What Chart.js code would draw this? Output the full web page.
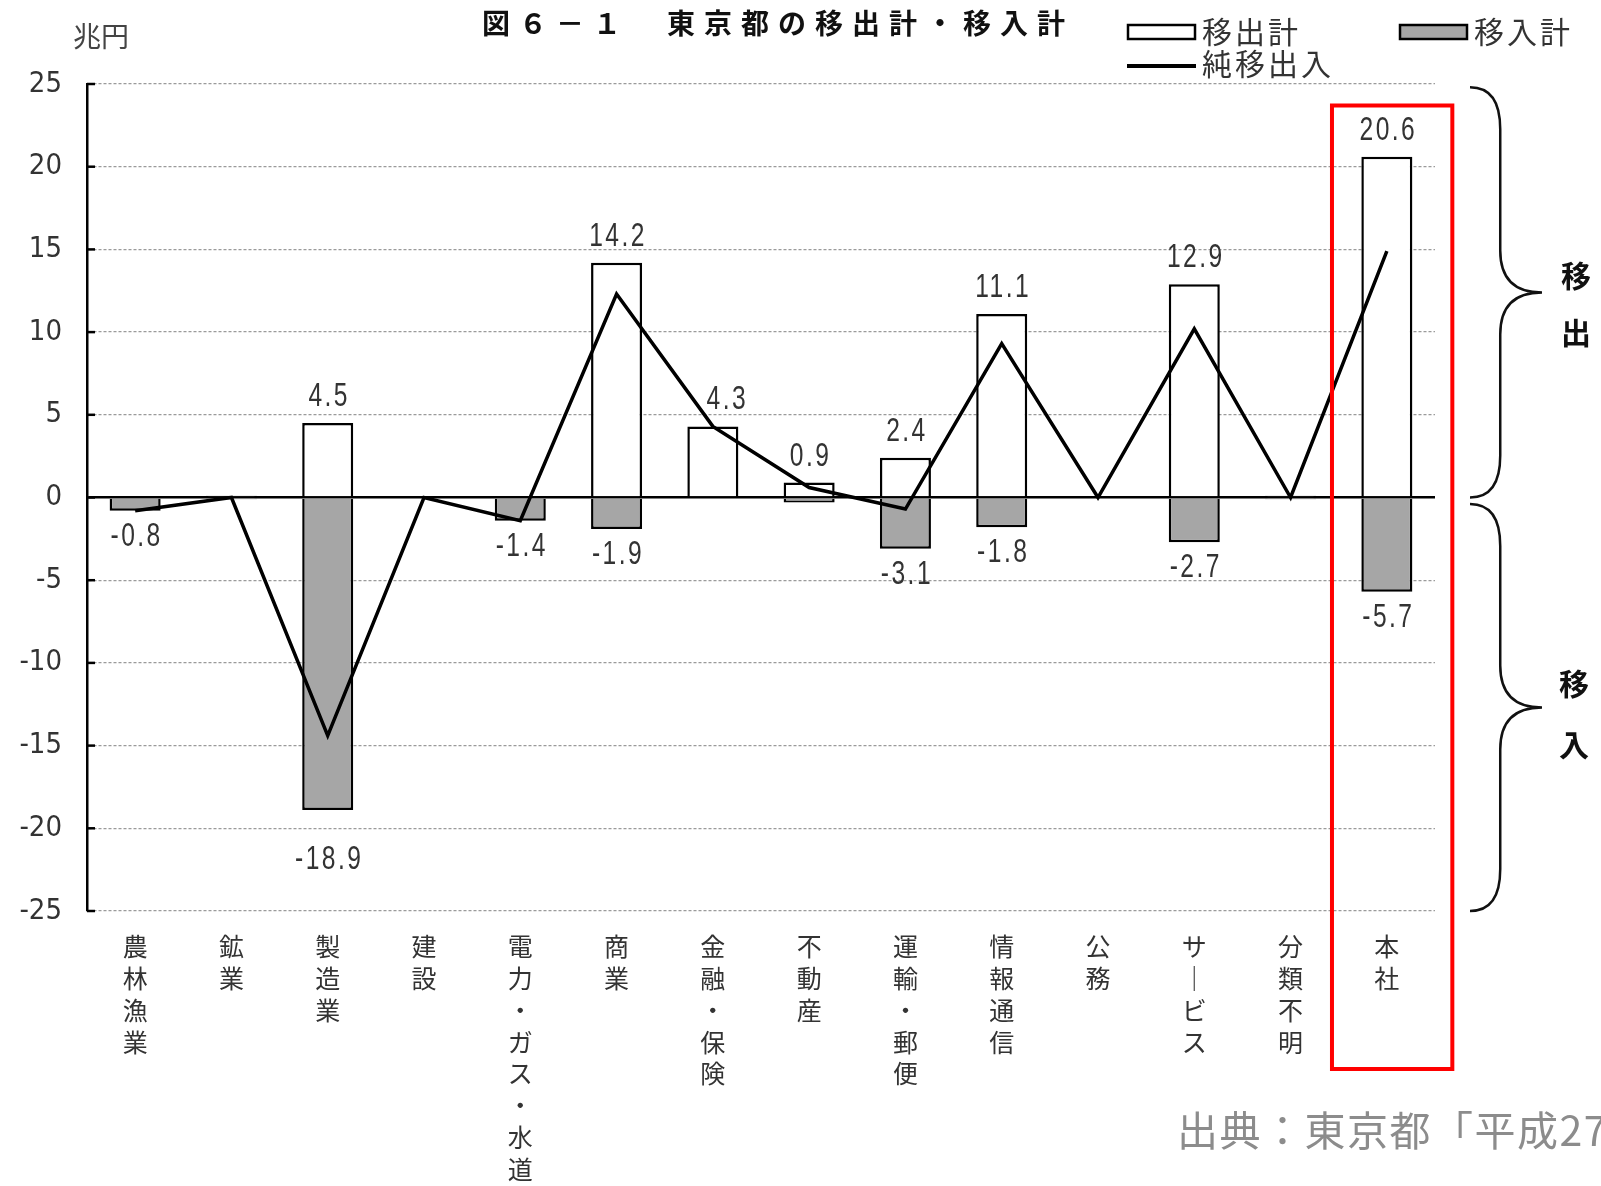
<!DOCTYPE html>
<html lang="ja">
<head>
<meta charset="utf-8">
<title>図6-1 東京都の移出計・移入計</title>
<script src="https://cdn.jsdelivr.net/npm/chart.js@4.4.1/dist/chart.umd.min.js"></script>
<style>
  html, body { margin: 0; padding: 0; background: #fff; }
  #contenedor { position: relative; width: 1601px; height: 1186px; }
</style>
</head>
<body>
<div id="contenedor"><canvas id="graficoMovimientos"></canvas></div>
<script>
// ================== DATOS ==================
const categorias = ["農林漁業", "鉱業", "製造業", "建設", "電力・ガス・水道", "商業", "金融・保険",
                    "不動産", "運輸・郵便", "情報通信", "公務", "サービス", "分類不明", "本社"];
const movimientoSalida = [0, 0.1, 4.5, 0, 0, 14.2, 4.3, 0.9, 2.4, 11.1, 0, 12.9, 0.1, 20.6];   // 移出計
const movimientoEntrada = [-0.8, -0.1, -18.9, 0, -1.4, -1.9, 0, -0.3, -3.1, -1.8, 0, -2.7, -0.1, -5.7]; // 移入計
const movimientoNeto = [-0.8, 0, -14.4, 0, -1.4, 12.3, 4.3, 0.6, -0.7, 9.3, 0, 10.2, 0, 14.9];  // 純移出入
const ticksY = [25, 20, 15, 10, 5, 0, -5, -10, -15, -20, -25];

// ================== ESTILO ==================
const FUENTE_NUM = "'Liberation Sans Narrow', 'DejaVu Sans Condensed', 'Liberation Sans', sans-serif";
const FUENTE_JP = "'Noto Sans CJK JP', 'Noto Sans', sans-serif";
const GRIS_BARRA = "#a6a6a6";
const TEXTO = "#333333";

// ajustes finos de algunos rotulos [dx, dy]
const ajusteSalida = { 6: [13, 0] };
const ajusteEntrada = { 2: [0, 24] };

// etiquetas verticales: un caracter por linea (ー se escribe vertical)
function vertical(txt) {
    return Array.from(txt.replace(/ー/g, "｜"));
}

// texto numerico estrecho (la fuente original es condensada)
function textoEstrecho(ctx, txt, x, y) {
    ctx.save();
    ctx.translate(x, y);
    ctx.scale(0.82, 1.08);
    ctx.fillText(txt, 0, 0);
    ctx.restore();
}

// ================== PLUGIN DE ROTULOS ==================
const pluginRotulos = {
    id: "rotulos",
    beforeDatasetsDraw(chart) {
        // marcas cortas hacia dentro del eje Y
        const { ctx, chartArea, scales: { y } } = chart;
        ctx.save();
        ctx.strokeStyle = "#000";
        ctx.lineWidth = 2.5;
        ticksY.forEach(v => {
            const py = y.getPixelForValue(v);
            ctx.beginPath();
            ctx.moveTo(chartArea.left, py);
            ctx.lineTo(chartArea.left + 8, py);
            ctx.stroke();
        });
        ctx.restore();
    },
    afterDatasetsDraw(chart) {
        const { ctx, scales: { x, y } } = chart;
        ctx.save();
        ctx.font = `30px 'Liberation Sans', sans-serif`;
        ctx.letterSpacing = "3px";
        ctx.fillStyle = TEXTO;
        ctx.textAlign = "center";
        ctx.textBaseline = "middle";

        movimientoSalida.forEach((v, i) => {
            if (v < 0.5) return;
            const [dx, dy] = ajusteSalida[i] || [0, 0];
            textoEstrecho(ctx, v.toFixed(1), x.getPixelForValue(i) + dx + 1.5, y.getPixelForValue(v) - 26 + dy);
        });
        movimientoEntrada.forEach((v, i) => {
            if (v > -0.5) return;
            const [dx, dy] = ajusteEntrada[i] || [0, 0];
            textoEstrecho(ctx, v.toFixed(1), x.getPixelForValue(i) + dx + 1.5, y.getPixelForValue(v) + 26 + dy);
        });
        ctx.restore();
    }
};

// ================== PLUGIN DECORACION ==================
function dibujarLlave(ctx, x0, y0, y1, ancho) {
    const xm = x0 + ancho * 0.42;
    const xp = x0 + ancho;
    const ym = (y0 + y1) / 2;
    const r = 42;
    ctx.beginPath();
    ctx.moveTo(x0, y0);
    ctx.quadraticCurveTo(xm, y0, xm, y0 + r);
    ctx.lineTo(xm, ym - r);
    ctx.quadraticCurveTo(xm, ym, xp, ym);
    ctx.quadraticCurveTo(xm, ym, xm, ym + r);
    ctx.lineTo(xm, y1 - r);
    ctx.quadraticCurveTo(xm, y1, x0, y1);
    ctx.stroke();
}

const pluginDecoracion = {
    id: "decoracion",
    afterDraw(chart) {
        const { ctx, chartArea, scales: { x, y } } = chart;
        ctx.save();

        // titulo
        ctx.fillStyle = "#111";
        ctx.font = `bold 28px ${FUENTE_JP}`;
        ctx.letterSpacing = "9px";
        ctx.textAlign = "left";
        ctx.textBaseline = "middle";
        ctx.fillText("図６－１　東京都の移出計・移入計", 482, 23);

        // unidad
        ctx.letterSpacing = "0px";
        ctx.fillStyle = "#444";
        ctx.font = `28px ${FUENTE_JP}`;
        ctx.fillText("兆円", 73, 36);

        // leyenda
        ctx.font = `30px ${FUENTE_JP}`;
        ctx.letterSpacing = "3px";
        ctx.lineWidth = 2.5;
        ctx.strokeStyle = "#000";
        ctx.fillStyle = "#fff";
        ctx.fillRect(1128, 25, 67, 14);
        ctx.strokeRect(1128, 25, 67, 14);
        ctx.fillStyle = GRIS_BARRA;
        ctx.fillRect(1400, 25, 67, 14);
        ctx.strokeRect(1400, 25, 67, 14);
        ctx.lineWidth = 4;
        ctx.beginPath();
        ctx.moveTo(1127, 66);
        ctx.lineTo(1196, 66);
        ctx.stroke();
        ctx.fillStyle = TEXTO;
        ctx.fillText("移出計", 1202, 32);
        ctx.fillText("移入計", 1474, 32);
        ctx.fillText("純移出入", 1202, 64);

        // recuadro rojo sobre 本社
        const ancho = x.width / categorias.length;
        const xc = x.getPixelForValue(categorias.length - 1);
        const yTop = y.getPixelForValue(23.7);
        ctx.strokeStyle = "#ff0000";
        ctx.lineWidth = 4;
        ctx.strokeRect(xc - ancho * 0.57, yTop, ancho * 1.25, chartArea.bottom + 158 - yTop);

        // llaves 移出 / 移入
        ctx.strokeStyle = "#111";
        ctx.lineWidth = 2.5;
        dibujarLlave(ctx, 1470, y.getPixelForValue(24.8), y.getPixelForValue(0), 72);
        dibujarLlave(ctx, 1470, y.getPixelForValue(-0.4), y.getPixelForValue(-25), 72);

        ctx.fillStyle = "#111";
        ctx.font = `bold 30px ${FUENTE_JP}`;
        ctx.letterSpacing = "0px";
        ctx.textAlign = "center";
        ctx.fillText("移", 1576, 276);
        ctx.fillText("出", 1576, 333);
        ctx.fillText("移", 1574, 684);
        ctx.fillText("入", 1574, 745);

        // fuente
        ctx.textAlign = "left";
        ctx.fillStyle = "#8c8c8c";
        ctx.font = `41px ${FUENTE_JP}`;
        ctx.letterSpacing = "1.5px";
        ctx.fillText("出典：東京都「平成27", 1177, 1130);

        ctx.restore();
    }
};

// ================== GRAFICO ==================
document.addEventListener("DOMContentLoaded", () => {
    const ctx = document.getElementById("graficoMovimientos");
    const esCero = c => c.tick && c.tick.value === 0;

    new Chart(ctx, {
        type: "bar",
        data: {
            labels: categorias.map(vertical),
            datasets: [
                {
                    type: "line",
                    label: "純移出入",
                    data: movimientoNeto,
                    borderColor: "#000",
                    borderWidth: 3.5,
                    pointRadius: 0,
                    tension: 0,
                    order: 0
                },
                {
                    label: "移出計",
                    data: movimientoSalida,
                    backgroundColor: "#ffffff",
                    borderColor: "#000",
                    borderWidth: 2.5,
                    borderSkipped: "start",
                    grouped: false,
                    barPercentage: 0.53,
                    categoryPercentage: 1,
                    order: 2
                },
                {
                    label: "移入計",
                    data: movimientoEntrada,
                    backgroundColor: GRIS_BARRA,
                    borderColor: "#000",
                    borderWidth: 2.5,
                    borderSkipped: "start",
                    grouped: false,
                    barPercentage: 0.53,
                    categoryPercentage: 1,
                    order: 1
                }
            ]
        },
        options: {
            responsive: true,
            maintainAspectRatio: false,
            animation: false,
            layout: { padding: { top: 84, right: 166, left: 0, bottom: 0 } },
            plugins: {
                legend: { display: false },
                title: { display: false },
                tooltip: { enabled: false }
            },
            scales: {
                x: {
                    grid: { display: false, drawTicks: false },
                    border: { display: false },
                    ticks: {
                        autoSkip: false,
                        maxRotation: 0,
                        minRotation: 0,
                        padding: 20,
                        color: TEXTO,
                        font: { family: FUENTE_JP, size: 25, lineHeight: 1.27 }
                    },
                    afterFit: s => { s.height = 275; }
                },
                y: {
                    min: -25,
                    max: 25,
                    afterBuildTicks: s => { s.ticks = ticksY.map(v => ({ value: v })); },
                    ticks: {
                        color: TEXTO,
                        padding: 25,
                        font: { family: FUENTE_NUM, size: 29 },
                        callback: v => String(v)
                    },
                    grid: {
                        drawTicks: false,
                        color: c => esCero(c) ? "#000" : "#9a9a9a",
                        lineWidth: c => esCero(c) ? 2.5 : 1.3
                    },
                    border: {
                        display: true,
                        color: "#000",
                        width: 2.5,
                        dash: c => esCero(c) ? [] : [3, 2]
                    },
                    afterFit: s => { s.width = 87; }
                }
            }
        },
        plugins: [pluginRotulos, pluginDecoracion]
    });
});
</script>
</body>
</html>
